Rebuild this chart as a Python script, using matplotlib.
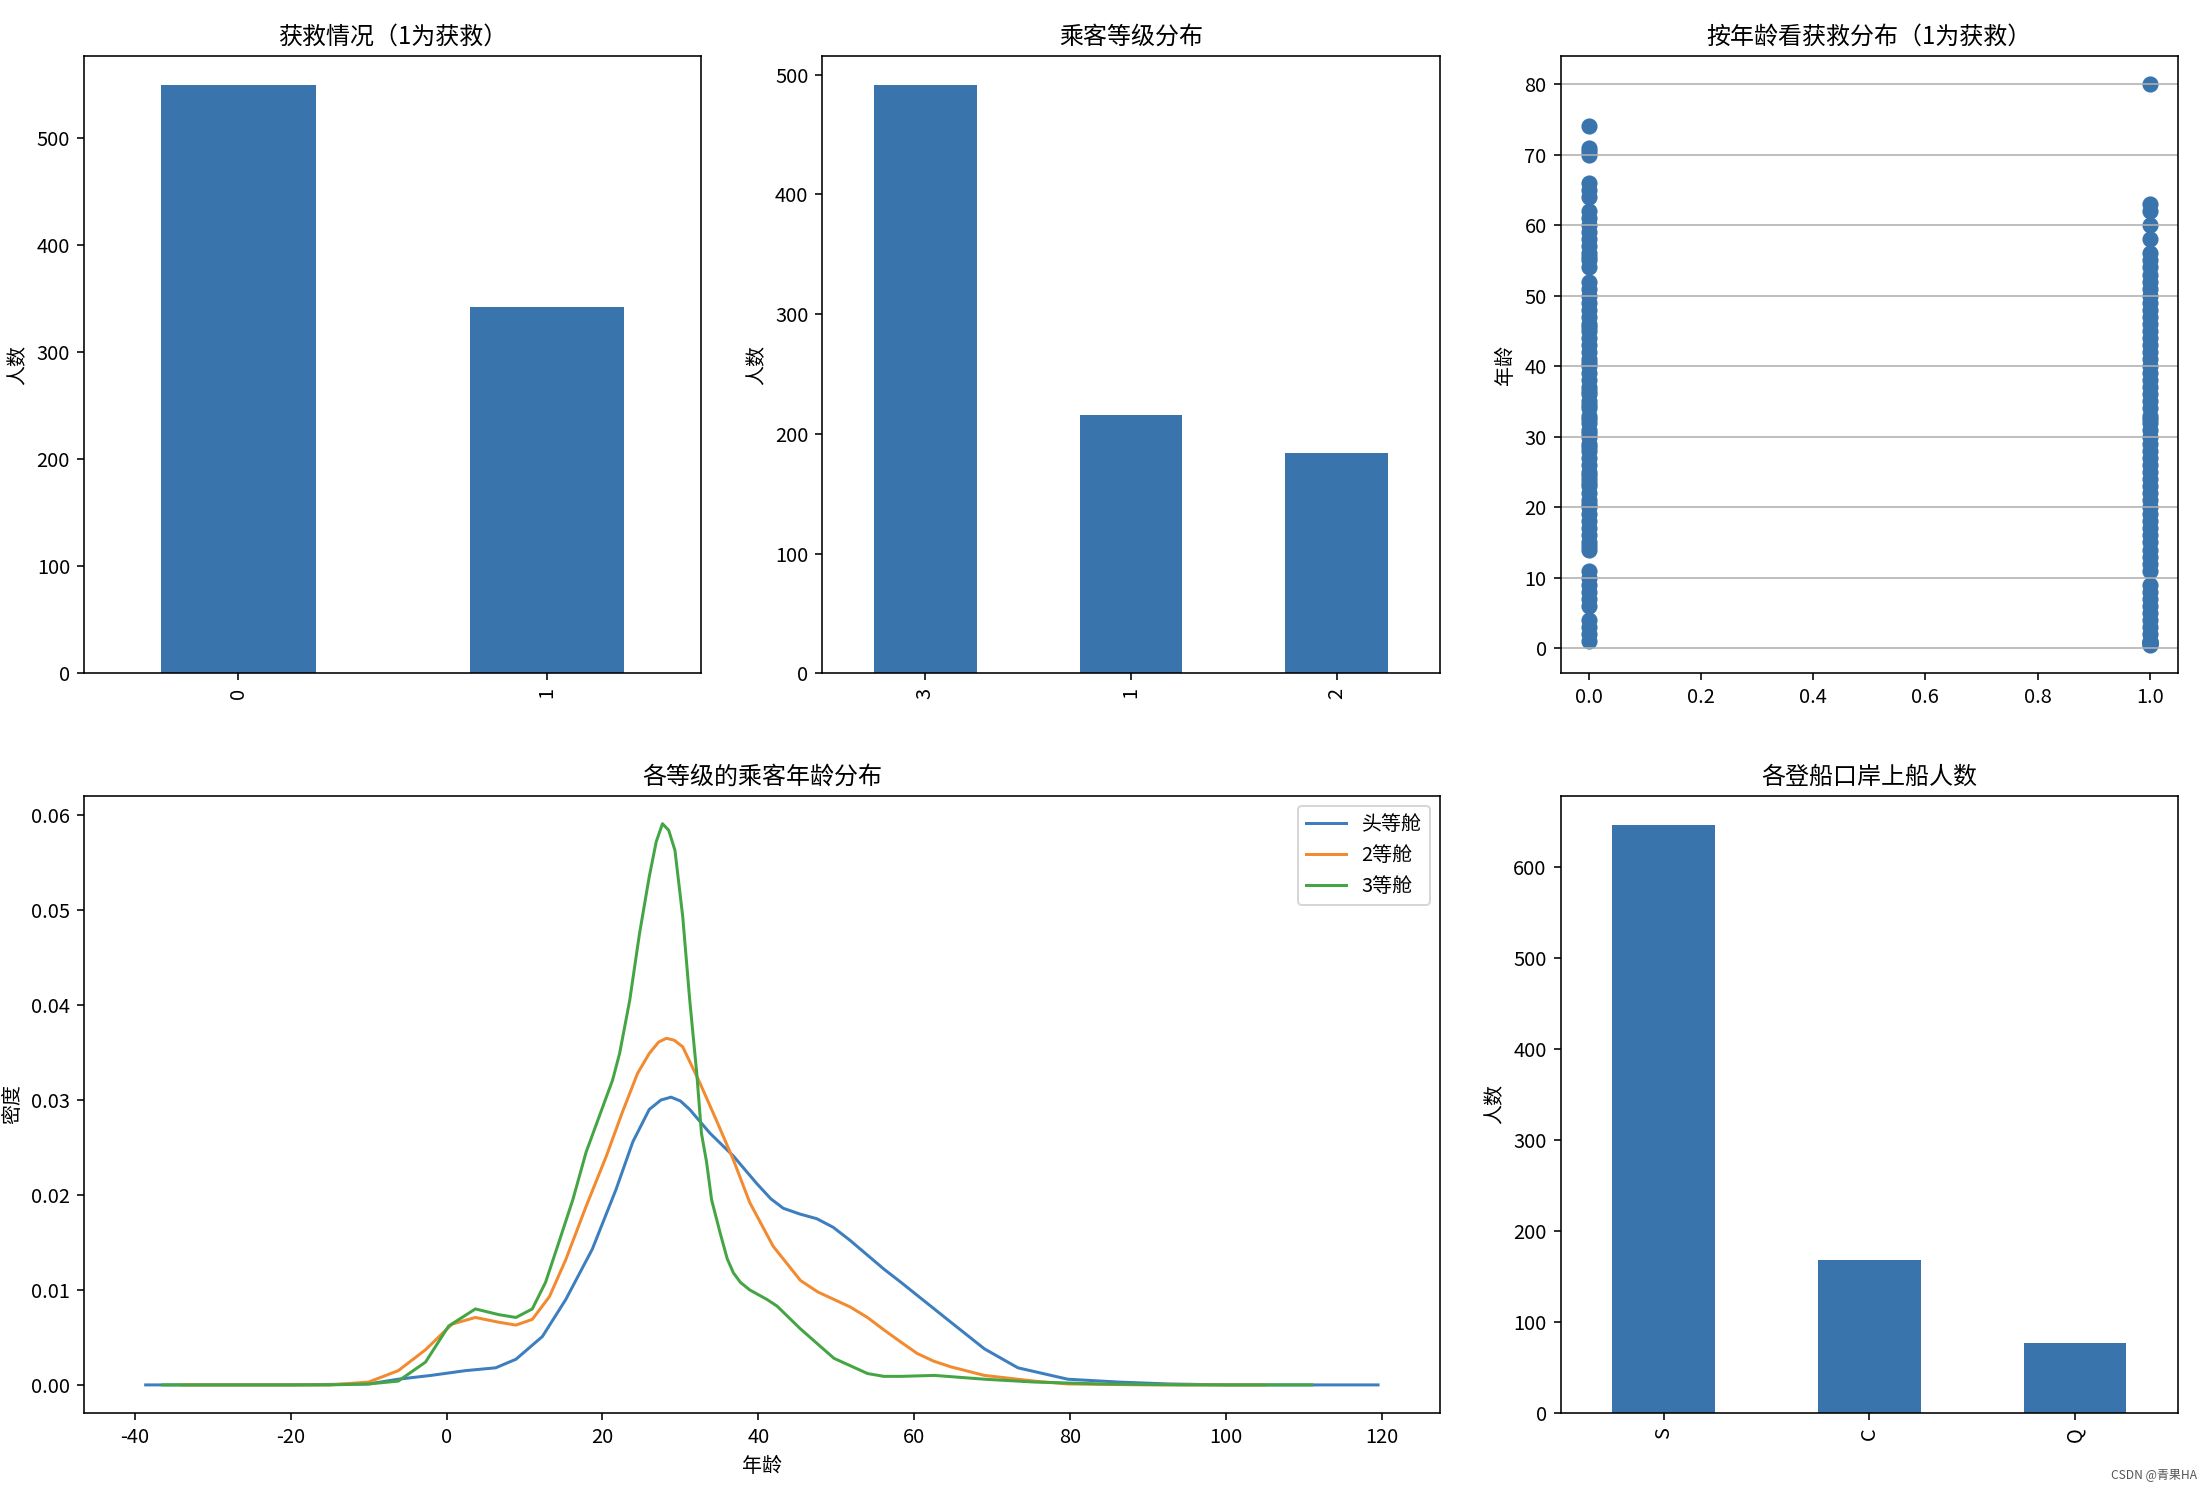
import matplotlib
matplotlib.use("Agg")
import matplotlib.pyplot as plt

plt.rcParams["font.family"] = ["Noto Sans CJK SC", "DejaVu Sans"]
plt.rcParams["axes.unicode_minus"] = False

# counts
survived_labels = ["0", "1"]
survived_counts = [549, 342]
pclass_labels = ["3", "1", "2"]
pclass_counts = [491, 216, 184]
embarked_labels = ["S", "C", "Q"]
embarked_counts = [646, 168, 77]

# distinct ages seen in the scatter
ages_died = [1, 2, 3, 4, 6, 7, 8, 9, 10, 11, 14, 14.5, 15, 16, 17, 18, 19, 20,
             20.5, 21, 22, 23, 23.5, 24, 24.5, 25, 26, 27, 28, 28.5, 29, 30,
             30.5, 31, 32, 32.5, 33, 34, 34.5, 35, 36, 36.5, 37, 38, 39, 40,
             40.5, 41, 42, 43, 44, 45, 45.5, 46, 47, 48, 49, 50, 51, 52, 54,
             55, 55.5, 56, 57, 58, 59, 60, 61, 62, 64, 65, 66, 70, 70.5, 71, 74]
ages_saved = [0.42, 0.67, 0.75, 0.83, 0.92, 1, 2, 3, 4, 5, 6, 7, 8, 9, 11, 12,
              13, 14, 15, 16, 17, 18, 19, 20, 21, 22, 23, 24, 25, 26, 27, 28,
              29, 30, 31, 32, 32.5, 33, 34, 35, 36, 37, 38, 39, 40, 41, 42, 43,
              44, 45, 46, 47, 48, 49, 50, 51, 52, 53, 54, 55, 56, 58, 60, 62,
              63, 80]

# density curves
kde1_x = [-38.6, -20, -10, -6.2, -2, 2.4, 6.3, 8.9, 12.3, 15.3, 18.7, 21.75,
          23.9, 26.0, 27.5, 28.8, 30.0, 31.2, 33.8, 36.8, 39.8, 41.6, 43.2,
          45.3, 47.5, 49.6, 51.8, 56.1, 58.3, 61.5, 64.7, 69.0, 73.3, 79.7,
          86.2, 92.6, 100, 119.5]
kde1_y = [0.0, 0.0, 0.0001, 0.0006, 0.0010, 0.0015, 0.0018, 0.0027, 0.0051,
          0.0090, 0.0143, 0.0206, 0.0256, 0.0290, 0.0300, 0.0303, 0.0299,
          0.0290, 0.0265, 0.0241, 0.0212, 0.0196, 0.0186, 0.0180, 0.0175,
          0.0166, 0.0152, 0.0122, 0.0108, 0.0087, 0.0066, 0.0038, 0.0018,
          0.0006, 0.0003, 0.0001, 0.0, 0.0]
kde2_x = [-34.0, -15, -10, -6.2, -2.7, 0.7, 3.7, 6.7, 8.9, 11.0, 13.2, 15.3,
          17.9, 20.5, 22.5, 24.5, 26.0, 27.2, 28.2, 29.2, 30.3, 32.5, 34.6,
          36.8, 38.9, 41.9, 45.4, 47.6, 49.7, 51.8, 54.0, 56.1, 58.3, 60.4,
          62.5, 64.7, 69.0, 75.4, 79.7, 90, 105]
kde2_y = [0.0, 0.0, 0.0003, 0.0015, 0.0037, 0.0064, 0.0071, 0.0066, 0.0063,
          0.0069, 0.0093, 0.0132, 0.0188, 0.0241, 0.0286, 0.0328, 0.0349,
          0.0361, 0.0365, 0.0363, 0.0356, 0.0318, 0.0279, 0.0237, 0.0192,
          0.0146, 0.0110, 0.0098, 0.0090, 0.0082, 0.0071, 0.0058, 0.0045,
          0.0033, 0.0025, 0.0019, 0.0010, 0.0004, 0.0001, 0.0, 0.0]
kde3_x = [-36.4, -15, -10, -6.2, -2.7, 0.27, 3.7, 6.7, 8.9, 11.0, 12.7, 14.4,
          16.2, 17.9, 19.6, 21.3, 22.2, 23.5, 24.75, 26.0, 26.9, 27.7, 28.5,
          29.3, 30.3, 31.2, 32.1, 32.7, 33.35, 34.0, 35.1, 36.0, 36.8, 37.7,
          38.9, 41.1, 42.4, 45.4, 49.7, 54.0, 56.1, 58.3, 62.6, 69.0, 75.4,
          84.0, 95, 111]
kde3_y = [0.0, 0.0, 0.0001, 0.0004, 0.0024, 0.0062, 0.0080, 0.0074, 0.0071,
          0.0080, 0.0108, 0.0150, 0.0195, 0.0245, 0.0283, 0.0321, 0.0349,
          0.0405, 0.0475, 0.0535, 0.0572, 0.0591, 0.0584, 0.0563, 0.0493,
          0.0405, 0.0328, 0.0265, 0.0235, 0.0195, 0.0160, 0.0133, 0.0118,
          0.0108, 0.0100, 0.0090, 0.0083, 0.0059, 0.0028, 0.0012, 0.0009,
          0.0009, 0.0010, 0.0006, 0.0003, 0.0001, 0.0, 0.0]
kde_labels = ["头等舱", "2等舱", "3等舱"]
kde_colors = ["#3d7ebf", "#f28a30", "#44a544"]

BAR = "#3a74ad"


def bar_panel(ax, labels, counts, title, ylabel):
    ax.bar(range(len(labels)), counts, width=0.5, color=BAR)
    ax.set_xticks(range(len(labels)))
    ax.set_xticklabels(labels, rotation=90)
    ax.set_xlim(-0.5, len(labels) - 0.5)
    ax.set_title(title)
    ax.set_ylabel(ylabel)


fig = plt.figure(figsize=(2212 / 144, 1490 / 144), dpi=144)

ax1 = plt.subplot2grid((2, 3), (0, 0))
bar_panel(ax1, survived_labels, survived_counts, "获救情况（1为获救）", "人数")

ax2 = plt.subplot2grid((2, 3), (0, 1))
bar_panel(ax2, pclass_labels, pclass_counts, "乘客等级分布", "人数")

ax3 = plt.subplot2grid((2, 3), (0, 2))
ax3.scatter([0] * len(ages_died), ages_died, color=BAR, s=50)
ax3.scatter([1] * len(ages_saved), ages_saved, color=BAR, s=50)
ax3.grid(True, which="major", axis="y")
ax3.set_ylabel("年龄")
ax3.set_title("按年龄看获救分布（1为获救）")

ax4 = plt.subplot2grid((2, 3), (1, 0), colspan=2)
for xs, ys, lab, c in zip([kde1_x, kde2_x, kde3_x], [kde1_y, kde2_y, kde3_y],
                          kde_labels, kde_colors):
    ax4.plot(xs, ys, label=lab, color=c)
ax4.set_xlabel("年龄")
ax4.set_ylabel("密度")
ax4.set_title("各等级的乘客年龄分布")
ax4.legend(loc="upper right")

ax5 = plt.subplot2grid((2, 3), (1, 2))
bar_panel(ax5, embarked_labels, embarked_counts, "各登船口岸上船人数", "人数")

plt.subplots_adjust(left=0.038, right=0.9846, top=0.9624, bottom=0.0517,
                    wspace=0.196, hspace=0.198)

fig.text(0.993, 0.006, "CSDN @青果HA", ha="right", va="bottom",
         fontsize=6, color="#555555")

fig.savefig("out.png", dpi=144)
